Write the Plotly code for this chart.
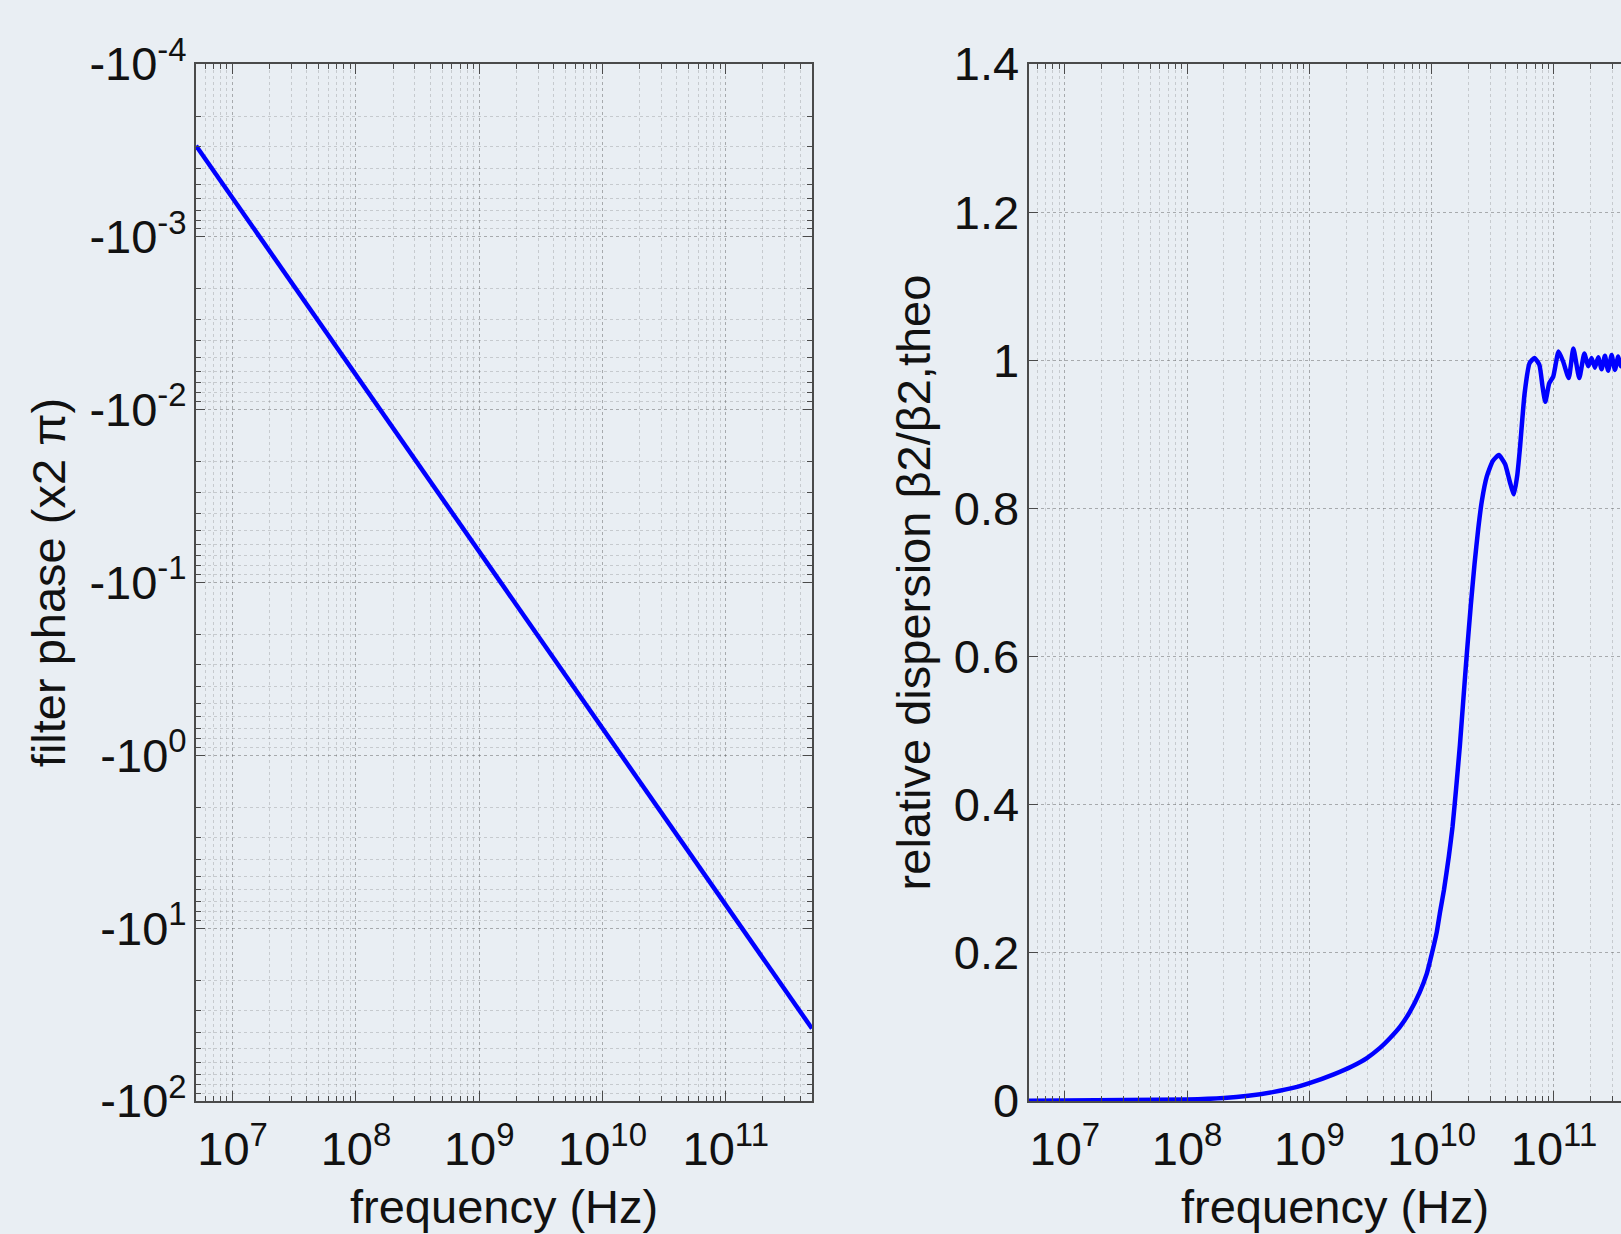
import plotly.graph_objects as go

# ---------------- data ----------------
# Left panel: filter phase (in units of 2*pi) versus frequency
phase_freq_hz = [5.05e6, 1e7, 1e8, 1e9, 1e10, 1e11, 5e11]
phase_x2pi = [-2.97e-4, -5.97e-4, -6.28e-3, -6.62e-2, -0.697, -7.34, -38.1]

# Right panel: relative dispersion beta2 / beta2,theo versus frequency
disp_freq_hz = [
    5.05e6, 1.0e7, 3.16e7, 1.0e8, 2.0e8, 3.16e8, 5.01e8, 7.94e8, 1.0e9,
    1.58e9, 2.24e9, 2.95e9, 3.80e9, 4.57e9, 5.50e9, 6.61e9, 7.94e9, 9.12e9,
    1.0e10, 1.10e10, 1.17e10, 1.26e10, 1.38e10, 1.48e10, 1.58e10, 1.70e10,
    1.82e10, 1.94e10, 2.09e10, 2.24e10, 2.40e10, 2.57e10, 2.82e10, 3.16e10,
    3.54e10, 3.98e10, 4.37e10, 4.70e10, 5.01e10, 5.26e10, 5.75e10, 6.31e10,
    6.92e10, 7.59e10, 8.07e10, 8.49e10, 9.14e10, 9.86e10, 1.09e11, 1.19e11,
    1.32e11, 1.44e11, 1.61e11, 1.77e11, 1.91e11, 2.03e11, 2.16e11, 2.30e11,
    2.45e11, 2.61e11, 2.77e11, 2.96e11, 3.15e11, 3.35e11, 3.52e11, 3.80e11,
    4.00e11, 4.50e11, 5.00e11,
]
rel_dispersion = [
    0.0005, 0.0007, 0.0012, 0.002, 0.004, 0.007, 0.012, 0.019, 0.024,
    0.036, 0.047, 0.058, 0.072, 0.085, 0.10, 0.12, 0.146, 0.172,
    0.198, 0.228, 0.255, 0.285, 0.33, 0.37, 0.42, 0.48,
    0.545, 0.605, 0.67, 0.725, 0.772, 0.81, 0.843, 0.864,
    0.872, 0.86, 0.835, 0.819, 0.845, 0.88, 0.955, 0.996,
    1.003, 0.994, 0.964, 0.944, 0.969, 0.978, 1.012, 0.998,
    0.976, 1.016, 0.976, 1.009, 0.992, 1.003, 0.99, 1.004,
    0.988, 1.006, 0.986, 1.007, 0.987, 1.005, 0.992, 1.003,
    0.99, 1.004, 0.995,
]

# tick labels
freq_tick_vals = [1e7, 1e8, 1e9, 1e10, 1e11]
freq_tick_text = ["10<sup>7</sup>", "10<sup>8</sup>", "10<sup>9</sup>",
                  "10<sup>10</sup>", "10<sup>11</sup>"]
phase_tick_vals = [1e-4, 1e-3, 1e-2, 1e-1, 1e0, 1e1, 1e2]
phase_tick_text = ["-10<sup>-4</sup>", "-10<sup>-3</sup>", "-10<sup>-2</sup>",
                   "-10<sup>-1</sup>", "-10<sup>0</sup>", "-10<sup>1</sup>",
                   "-10<sup>2</sup>"]
disp_tick_vals = [0, 0.2, 0.4, 0.6, 0.8, 1.0, 1.2, 1.4]
disp_tick_text = ["0", "0.2", "0.4", "0.6", "0.8", "1", "1.2", "1.4"]

# ---------------- styling ----------------
W, H = 1621, 1234
MT, MB = 64, 133
BG = "#e9eef3"
FONT = "Liberation Sans, Arial, Helvetica, sans-serif"
FS = 47
AXIS_COLOR = "#4a4a4a"
MAJOR_GRID = "rgba(60,60,60,0.38)"
MINOR_GRID = "rgba(60,60,60,0.2)"
BLUE = "#0000ff"
TXT = "#111111"

freq_minor = [m * 10.0 ** e for e in range(6, 12) for m in range(2, 10)]
phase_minor = [m * 10.0 ** e for e in range(-4, 2) for m in range(2, 10)]

fig = go.Figure()

fig.add_trace(go.Scatter(
    x=phase_freq_hz, y=[-p for p in phase_x2pi],
    mode="lines", line=dict(color=BLUE, width=4.5),
    xaxis="x", yaxis="y", showlegend=False,
))
fig.add_trace(go.Scatter(
    x=disp_freq_hz, y=rel_dispersion,
    mode="lines", line=dict(color=BLUE, width=4.5, shape="spline", smoothing=0.5),
    xaxis="x2", yaxis="y2", showlegend=False,
))


def freq_axis(domain, rng, anchor):
    return dict(
        type="log", domain=domain, range=rng, anchor=anchor,
        tickmode="array", tickvals=freq_tick_vals, ticktext=freq_tick_text,
        ticks="inside", ticklen=10, tickwidth=1.2, tickcolor=AXIS_COLOR,
        showline=True, linecolor=AXIS_COLOR, linewidth=2, mirror="ticks",
        showgrid=True, gridcolor=MAJOR_GRID, griddash="dot", gridwidth=1,
        minor=dict(tickmode="array", tickvals=freq_minor, ticks="inside",
                   ticklen=5, tickwidth=1, tickcolor=AXIS_COLOR,
                   showgrid=True, gridcolor=MINOR_GRID, griddash="dot",
                   gridwidth=1),
        tickfont=dict(family=FONT, size=FS, color=TXT),
        zeroline=False, automargin=False, ticklabelstandoff=6,
    )


fig.update_layout(
    width=W, height=H, autosize=False,
    paper_bgcolor=BG, plot_bgcolor=BG,
    margin=dict(l=0, r=0, t=MT, b=MB),
    xaxis=freq_axis([196 / W, 812 / W], [6.703, 11.699], "y"),
    xaxis2=freq_axis([1028.5 / W, 1.0], [6.703, 11.548], "y2"),
    yaxis=dict(
        type="log", domain=[0, 1], range=[2, -4], anchor="x",
        tickmode="array", tickvals=phase_tick_vals, ticktext=phase_tick_text,
        ticks="inside", ticklen=9, tickwidth=1.2, tickcolor=AXIS_COLOR,
        showline=True, linecolor=AXIS_COLOR, linewidth=2, mirror="ticks",
        showgrid=True, gridcolor=MAJOR_GRID, griddash="dot", gridwidth=1,
        minor=dict(tickmode="array", tickvals=phase_minor, ticks="inside",
                   ticklen=5, tickwidth=1, tickcolor=AXIS_COLOR,
                   showgrid=True, gridcolor=MINOR_GRID, griddash="dot",
                   gridwidth=1),
        tickfont=dict(family=FONT, size=FS, color=TXT),
        title=dict(text="filter phase (x2 \u03c0)",
                   font=dict(family=FONT, size=FS, color=TXT), standoff=9),
        zeroline=False, automargin=False, ticklabelstandoff=-2,
    ),
    yaxis2=dict(
        type="linear", domain=[0, 1], range=[0, 1.4], anchor="x2",
        tickmode="array", tickvals=disp_tick_vals, ticktext=disp_tick_text,
        ticks="inside", ticklen=9, tickwidth=1.2, tickcolor=AXIS_COLOR,
        showline=True, linecolor=AXIS_COLOR, linewidth=2, mirror=False,
        showgrid=True, gridcolor=MAJOR_GRID, griddash="dot", gridwidth=1,
        tickfont=dict(family=FONT, size=FS, color=TXT),
        title=dict(text="relative dispersion \u03b22/\u03b22,theo",
                   font=dict(family=FONT, size=FS, color=TXT), standoff=8),
        zeroline=False, automargin=False, ticklabelstandoff=-2,
    ),
)

# x-axis titles (the right panel is cropped at the window edge in the
# reference, so its title is centred on the full, uncropped panel width)
title_y = (H - MB - 1206) / (H - MT - MB)
for cx in (504, 1335):
    fig.add_annotation(
        text="frequency (Hz)", xref="paper", yref="paper",
        x=cx / W, y=title_y, xanchor="center", yanchor="middle",
        showarrow=False, font=dict(family=FONT, size=FS, color=TXT),
    )

fig.write_html("out.html", config={"displayModeBar": False})

# remove the default page margin so the figure fills the window exactly
with open("out.html", "r", encoding="utf-8") as fh:
    html = fh.read()
html = html.replace("<body>", '<body style="margin:0;padding:0;overflow:hidden">', 1)
html = html.replace("<head>", "<head><style>html,body{margin:0;padding:0;}</style>", 1)
with open("out.html", "w", encoding="utf-8") as fh:
    fh.write(html)
